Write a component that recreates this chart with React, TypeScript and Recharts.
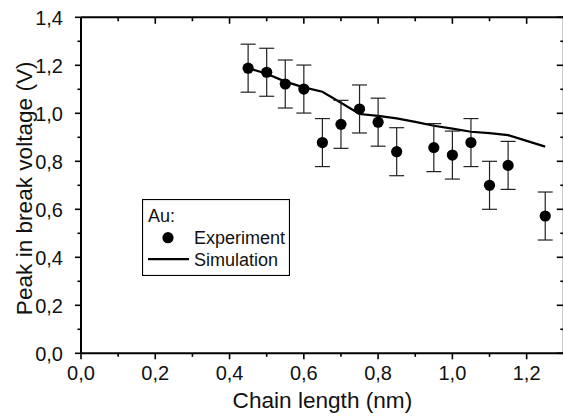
import React from 'react';
import { ComposedChart, XAxis, YAxis, Scatter, Line, ErrorBar, Legend, Label } from 'recharts';

// ---- data ----
const expX = [0.45, 0.5, 0.55, 0.6, 0.65, 0.7, 0.75, 0.8, 0.85, 0.95, 1.0, 1.05, 1.1, 1.15, 1.25];
const expY = [1.188, 1.171, 1.122, 1.101, 0.878, 0.954, 1.018, 0.963, 0.84, 0.857, 0.826, 0.878, 0.7, 0.783, 0.572];
const expErr = [0.1, 0.1, 0.1, 0.1, 0.1, 0.1, 0.1, 0.1, 0.1, 0.1, 0.1, 0.1, 0.1, 0.1, 0.1];

const simX = [0.45, 0.5, 0.55, 0.6, 0.65, 0.7, 0.75, 0.8, 0.85, 0.9, 0.95, 1.0, 1.05, 1.1, 1.15, 1.2, 1.25];
const simY = [1.188, 1.165, 1.132, 1.108, 1.09, 1.044, 0.997, 0.989, 0.979, 0.964, 0.948, 0.936, 0.923, 0.917, 0.909, 0.885, 0.861];

const xTicks = [0, 0.1, 0.2, 0.3, 0.4, 0.5, 0.6, 0.7, 0.8, 0.9, 1.0, 1.1, 1.2];
const yTicks = [0, 0.1, 0.2, 0.3, 0.4, 0.5, 0.6, 0.7, 0.8, 0.9, 1.0, 1.1, 1.2, 1.3, 1.4];
const xDomain = [0, 1.3];
const yDomain = [0, 1.4];

const xTitle = 'Chain length (nm)';
const yTitle = 'Peak in break voltage (V)';
const legendTitle = 'Au:';
const expName = 'Experiment';
const simName = 'Simulation';

const expData = expX.map((x, i) => ({ x, y: expY[i], err: expErr[i] }));
const simData = simX.map((x, i) => ({ x, y: simY[i] }));

const FONT = '"Liberation Sans", Arial, Helvetica, sans-serif';
const TICK_FS = 20;
const TITLE_FS = 22.6;
const fmt = (v: number) => v.toFixed(1).replace('.', ',');
const isMajor = (v: number) => Math.round(v * 10) % 2 === 0;

const BottomTick = (props: any) => {
  const { x, y, payload } = props;
  const v = payload.value;
  const major = isMajor(v);
  return (
    <g>
      <line x1={x} x2={x} y1={y} y2={y + (major ? 6 : 3.5)} stroke="#000" strokeWidth={1.6} />
      {major && (
        <text x={x} y={y + 26.7} textAnchor="middle" fontSize={TICK_FS} fontFamily={FONT} fill="#111">
          {fmt(v)}
        </text>
      )}
    </g>
  );
};

const TopTick = (props: any) => {
  const { x, y, payload } = props;
  const major = isMajor(payload.value);
  return <line x1={x} x2={x} y1={y} y2={y + (major ? 6.5 : 4)} stroke="#000" strokeWidth={1.6} />;
};

const LeftTick = (props: any) => {
  const { x, y, payload } = props;
  const v = payload.value;
  const major = isMajor(v);
  return (
    <g>
      <line x1={x - (major ? 6 : 3.5)} x2={x} y1={y} y2={y} stroke="#000" strokeWidth={1.6} />
      {major && (
        <text x={x - 18} y={y + 7.2} textAnchor="end" fontSize={TICK_FS} fontFamily={FONT} fill="#111">
          {fmt(v)}
        </text>
      )}
    </g>
  );
};

const RightTick = (props: any) => {
  const { x, y, payload } = props;
  const major = isMajor(payload.value);
  return <line x1={x - (major ? 7 : 3.5)} x2={x} y1={y} y2={y} stroke="#000" strokeWidth={1.6} />;
};

const Dot = (props: any) => {
  const { cx, cy } = props;
  if (cx == null || cy == null) return <g />;
  return <circle cx={cx} cy={cy} r={5.6} fill="#000" />;
};

const XTitle = (props: any) => {
  const vb = props.viewBox || {};
  return (
    <text x={vb.x + vb.width / 2} y={vb.y + 55} textAnchor="middle" fontSize={TITLE_FS} fontFamily={FONT} fill="#111">
      {xTitle}
    </text>
  );
};

const YTitle = (props: any) => {
  const vb = props.viewBox || {};
  const cx = vb.x + 32;
  const cy = vb.y + vb.height / 2 + 3;
  return (
    <text x={cx} y={cy} transform={`rotate(-90 ${cx} ${cy})`} textAnchor="middle" fontSize={TITLE_FS} fontFamily={FONT} fill="#111">
      {yTitle}
    </text>
  );
};

const renderLegend = () => (
  <svg width={148} height={77} style={{ display: 'block' }}>
    <rect x={0.5} y={0.5} width={147} height={76} fill="#fff" stroke="#000" strokeWidth={1.2} />
    <text x={6} y={22.6} fontSize={18} fontFamily={FONT} fill="#111">{legendTitle}</text>
    <circle cx={26} cy={38.7} r={5.6} fill="#000" />
    <text x={52} y={45.1} fontSize={18} fontFamily={FONT} fill="#111">{expName}</text>
    <line x1={6} x2={47} y1={60.2} y2={60.2} stroke="#000" strokeWidth={2.2} />
    <text x={52} y={66.6} fontSize={18} fontFamily={FONT} fill="#111">{simName}</text>
  </svg>
);

export default function App() {
  return (
    <div style={{ position: 'absolute', left: 0, top: 0, width: 563, height: 416, overflow: 'hidden', background: '#fff' }}>
      <ComposedChart width={570} height={416} margin={{ top: 7, right: 0, bottom: 0, left: 0 }}>
        <XAxis
          dataKey="x"
          type="number"
          domain={xDomain}
          ticks={xTicks}
          interval={0}
          allowDataOverflow
          height={62.7}
          tickSize={0}
          tickMargin={0}
          tickLine={false}
          tick={<BottomTick />}
          axisLine={{ stroke: '#000', strokeWidth: 2 }}
        >
          <Label content={<XTitle />} />
        </XAxis>
        <XAxis
          xAxisId="top"
          orientation="top"
          dataKey="x"
          type="number"
          domain={xDomain}
          ticks={xTicks}
          interval={0}
          allowDataOverflow
          height={10.3}
          tickSize={0}
          tickMargin={0}
          tickLine={false}
          tick={<TopTick />}
          axisLine={{ stroke: '#000', strokeWidth: 2 }}
        />
        <YAxis
          type="number"
          domain={yDomain}
          ticks={yTicks}
          interval={0}
          allowDataOverflow
          width={81}
          tickSize={0}
          tickMargin={0}
          tickLine={false}
          tick={<LeftTick />}
          axisLine={{ stroke: '#000', strokeWidth: 2 }}
        >
          <Label content={<YTitle />} />
        </YAxis>
        <YAxis
          yAxisId="right"
          orientation="right"
          type="number"
          domain={yDomain}
          ticks={yTicks}
          interval={0}
          allowDataOverflow
          width={6.2}
          tickSize={0}
          tickMargin={0}
          tickLine={false}
          tick={<RightTick />}
          axisLine={{ stroke: '#000', strokeWidth: 2 }}
        />
        <Line
          data={simData}
          dataKey="y"
          name={simName}
          type="linear"
          stroke="#000"
          strokeWidth={2.2}
          dot={false}
          activeDot={false}
          isAnimationActive={false}
        />
        <Scatter data={expData} dataKey="y" name={expName} fill="#000" shape={<Dot />} isAnimationActive={false}>
          <ErrorBar dataKey="err" direction="y" width={7.5} stroke="#222" strokeWidth={1.2} isAnimationActive={false} />
        </Scatter>
        <Legend
          layout="vertical"
          align="center"
          verticalAlign="middle"
          wrapperStyle={{ left: 142, top: 199.3, width: 148, height: 77 }}
          content={renderLegend}
        />
      </ComposedChart>
    </div>
  );
}
